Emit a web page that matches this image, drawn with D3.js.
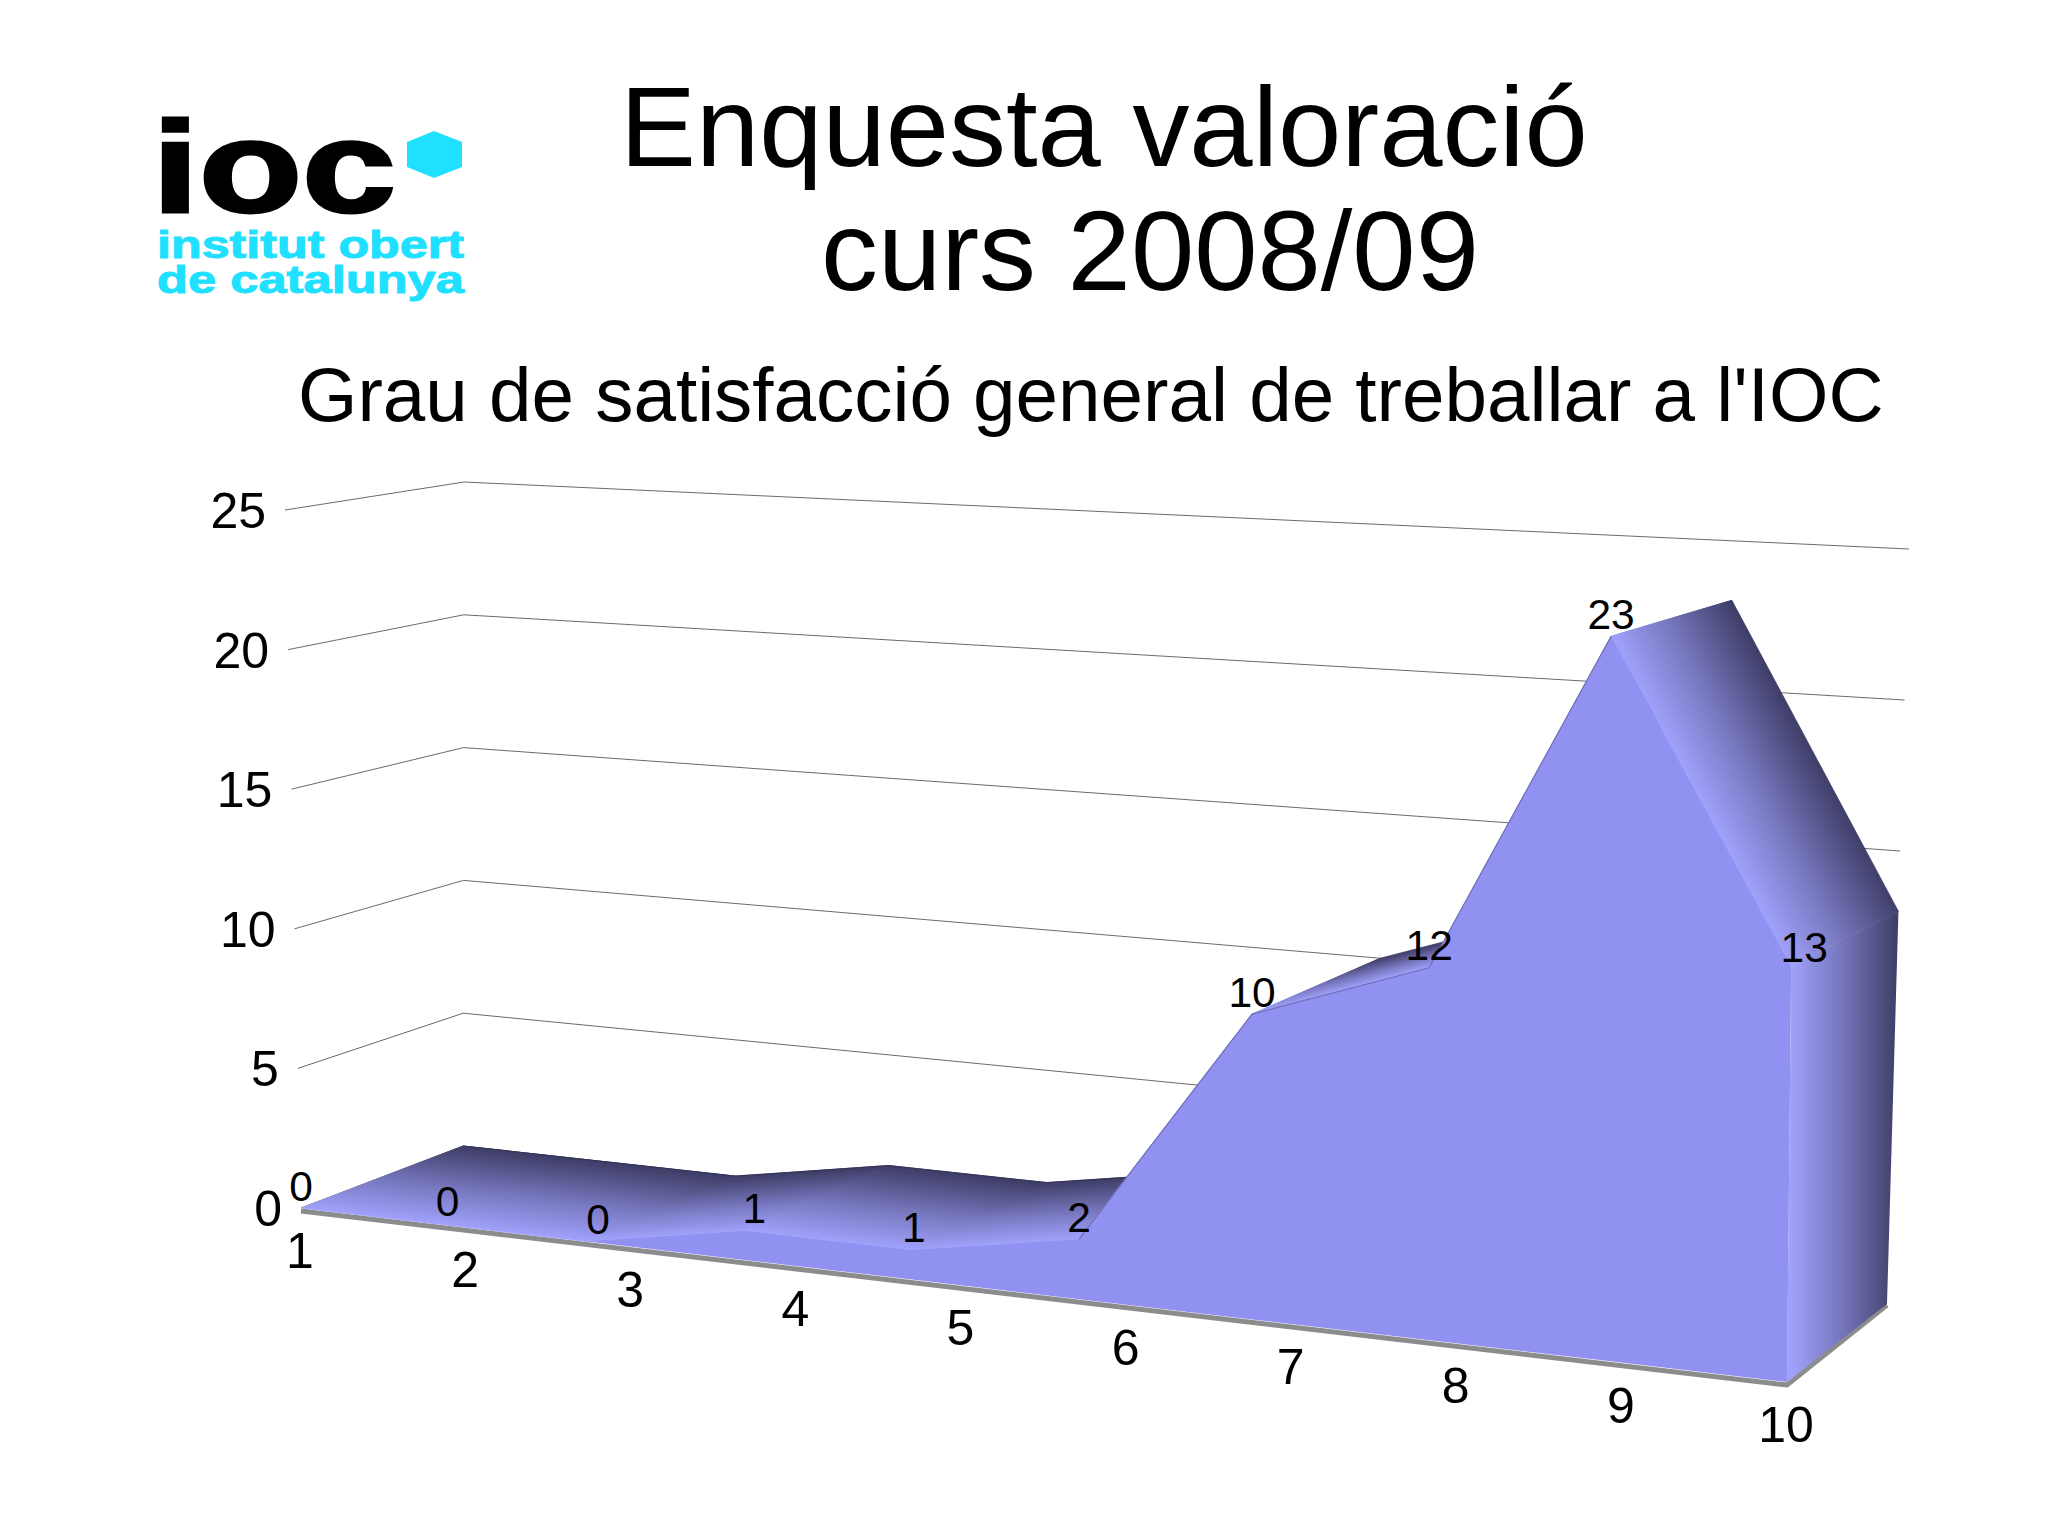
<!DOCTYPE html>
<html><head><meta charset="utf-8">
<script src="https://cdn.jsdelivr.net/npm/d3@7"></script>
<style>html,body{margin:0;padding:0;background:#fff}svg{display:block}text{font-family:"Liberation Sans",Arial,sans-serif;fill:#000}</style>
</head><body><div id="c"></div>
<script>
const categories = [1,2,3,4,5,6,7,8,9,10];
const values = [0,0,0,1,1,2,10,12,23,13];
const valueTicks = [0,5,10,15,20,25];
const titleLines = ["Enquesta valoració","curs 2008/09"];
const subtitle = "Grau de satisfacció general de treballar a l'IOC";

const W=2048,H=1535;
const svg=d3.select("#c").append("svg").attr("width",W).attr("height",H).attr("viewBox",[0,0,W,H]);
const defs=svg.append("defs");

// box corners of the 3-D frame: [x,y] at (category end, value end, depth end)
const box={
  f0:{l:[301,1208],r:[1787,1382]}, f1:{l:[285,510],r:[1795,582]},
  b0:{l:[463,1146],r:[1887,1304]}, b1:{l:[464,482],r:[1909,549]}
};
const tLinear=d3.scaleLinear().domain([0,categories.length-1]).range([0,1]);
const tMark=d3.scalePow().exponent(1.1).domain([0,categories.length-1]).range([0,1]);
const vScale=d3.scaleLinear().domain([0,25]).range([0,1]);
const mix=(a,b,k)=>[a[0]+(b[0]-a[0])*k,a[1]+(b[1]-a[1])*k];
function project(t,v,d){
  const k=vScale(v);
  const at=s=>mix(s.l,s.r,t);
  const front=mix(at(box.f0),at(box.f1),k), back=mix(at(box.b0),at(box.b1),k);
  return mix(front,back,d);
}
const pts=a=>a.map(p=>p.join(",")).join(" ");
const idx=d3.range(categories.length);
const F=i=>project(tMark(i),values[i],0), B=i=>project(tMark(i),values[i],1);
const F0=i=>project(tMark(i),0,0), B0=i=>project(tMark(i),0,1);
const last=categories.length-1;

// gridlines
const grid=svg.append("g").attr("stroke","#6b6b6b").attr("stroke-width",1).attr("fill","none");
valueTicks.forEach(v=>{
  grid.append("polyline").attr("points",pts([project(0,v,0),project(0,v,1),project(1,v,1)]));
});
// value axis labels
svg.append("g").selectAll("text").data(valueTicks).join("text")
  .attr("text-anchor","end").attr("dominant-baseline","central").attr("font-size",50)
  .attr("x",v=>project(0,v,0)[0]-19).attr("y",v=>project(0,v,0)[1]+1).text(v=>v);

// floor edge
svg.append("polyline").attr("fill","none").attr("stroke","#8c8c8c").attr("stroke-width",5)
  .attr("points",pts([project(0,0,0),project(1,0,0),project(1,0,1)].map((p,i)=>[p[0],p[1]+(i<2?3:1)])));

// upper surface, one shaded strip per category step
function grad(id,p0,p1,stops){
  const g=defs.append("linearGradient").attr("id",id).attr("gradientUnits","userSpaceOnUse")
    .attr("x1",p0[0]).attr("y1",p0[1]).attr("x2",p1[0]).attr("y2",p1[1]);
  stops.forEach(s=>g.append("stop").attr("offset",s[0]).attr("stop-color",s[1]));
}
const shade=[[0,"#a0a1fb"],[0.45,"#7878c0"],[1,"#3e3d66"]];
idx.slice(0,-1).forEach(i=>{
  const f=F(i),g=F(i+1),b=B(i),e=[g[0]-f[0],g[1]-f[1]],w=[b[0]-f[0],b[1]-f[1]];
  const k=(w[0]*e[0]+w[1]*e[1])/(e[0]*e[0]+e[1]*e[1]);
  const n=[w[0]-e[0]*k,w[1]-e[1]*k];
  grad("s"+i,f,[f[0]+n[0],f[1]+n[1]],shade);
  svg.append("polygon").attr("points",pts([F(i),F(i+1),B(i+1),B(i)])).attr("fill",`url(#s${i})`)
    .attr("stroke",`url(#s${i})`).attr("stroke-width",0.8);
});
svg.append("polyline").attr("fill","none").attr("stroke","#35345a").attr("stroke-width",1.2)
  .attr("points",pts(idx.slice(0,6).map(B)));
// right side
grad("side",F(last),[B(last)[0],F(last)[1]],shade);
svg.append("polygon").attr("points",pts([F0(last),F(last),B(last),B0(last)])).attr("fill","url(#side)");
// front
svg.append("polygon").attr("points",pts([...idx.map(F),...idx.map(F0).reverse()])).attr("fill","#9191f2");
svg.append("polyline").attr("fill","none").attr("stroke","#6f6fb8").attr("stroke-width",1.2)
  .attr("points",pts(idx.slice(5,9).map(F)));

// category labels
svg.append("g").selectAll("text").data(idx).join("text")
  .attr("text-anchor","middle").attr("dominant-baseline","central").attr("font-size",50)
  .attr("x",i=>project(tLinear(i),0,0)[0]-1).attr("y",i=>project(tLinear(i),0,0)[1]+43).text(i=>categories[i]);
// value labels: a few sit off their point in the reference
const labelDx=i=>({1:14,2:13,3:10,4:4,9:13})[i]||0;
svg.append("g").selectAll("text").data(idx).join("text")
  .attr("text-anchor","middle").attr("dominant-baseline","central").attr("font-size",42.5)
  .attr("x",i=>F(i)[0]+labelDx(i))
  .attr("y",i=>F(i)[1]+(i===last?-19:-22)).text(i=>values[i]);

// titles
svg.append("text").attr("x",620).attr("y",166).attr("font-size",113.8).text(titleLines[0]);
svg.append("text").attr("x",821).attr("y",290).attr("font-size",113.8).text(titleLines[1]);
svg.append("text").attr("x",298).attr("y",421).attr("font-size",76.4).text(subtitle);

// logo
const logo=svg.append("g");
logo.append("text").attr("x",152).attr("y",212).attr("font-size",130).attr("font-weight","bold")
  .attr("textLength",244).attr("lengthAdjust","spacingAndGlyphs").attr("stroke","#000").attr("stroke-width",3).text("ioc");
logo.append("polygon").attr("fill","#1fe0ff").attr("points",pts([[434,131],[462,142],[462,167],[434,178],[407,167],[407,142]]));
[["institut obert",258],["de catalunya",293]].forEach(([s,y])=>{
  logo.append("text").attr("x",157).attr("y",y).attr("font-size",39).attr("font-weight","bold")
    .attr("textLength",307).attr("lengthAdjust","spacingAndGlyphs")
    .style("fill","#1fe0ff").attr("stroke","#1fe0ff").attr("stroke-width",1).text(s);
});
</script></body></html>
